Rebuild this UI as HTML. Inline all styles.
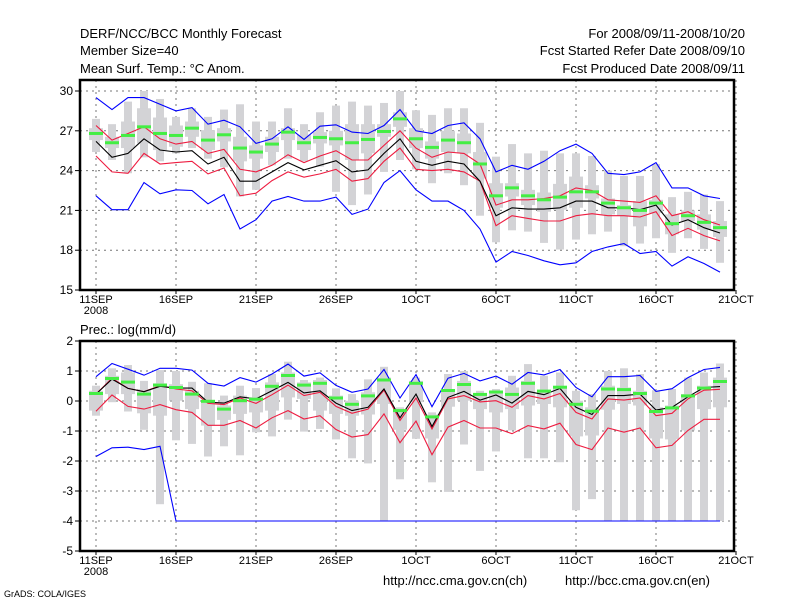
<!DOCTYPE html>
<html><head><meta charset="utf-8">
<style>
html,body{margin:0;padding:0;background:#fff;}
svg{display:block;font-family:"Liberation Sans",sans-serif;}
</style></head>
<body>
<svg id="chart" width="800" height="600" viewBox="0 0 800 600">
<text x="80" y="38" font-size="13">DERF/NCC/BCC Monthly Forecast</text>
<text x="80" y="55" font-size="13">Member Size=40</text>
<text x="80" y="73" font-size="13">Mean Surf. Temp.: °C Anom.</text>
<text x="745" y="38" font-size="13" text-anchor="end">For 2008/09/11-2008/10/20</text>
<text x="745" y="55" font-size="13" text-anchor="end">Fcst Started Refer Date 2008/09/10</text>
<text x="745" y="73" font-size="13" text-anchor="end">Fcst Produced Date 2008/09/11</text>
<text x="80" y="334" font-size="13">Prec.: log(mm/d)</text>
<text x="383" y="585" font-size="13">http://ncc.cma.gov.cn(ch)</text>
<text x="565" y="585" font-size="13">http://bcc.cma.gov.cn(en)</text>
<text x="4" y="597" font-size="9">GrADS: COLA/IGES</text>
<g id="top"></g>
<g id="bot"></g>
</svg>
<script>
const xLabels=["11SEP","16SEP","21SEP","26SEP","1OCT","6OCT","11OCT","16OCT","21OCT"];
const tTicks=[15,18,21,24,27,30];
const pTicks=[-5,-4,-3,-2,-1,0,1,2];
// temperature
const tBlueHi=[29.5,28.6,29.5,29.5,29.0,28.5,28.75,27.5,27.8,27.3,26.05,26.4,27.3,26.35,27.35,27.45,26.9,26.8,27.4,28.6,27.0,26.8,27.4,27.6,26.4,23.9,24.4,24.1,24.7,25.5,26.0,25.3,23.8,23.7,23.9,24.6,22.7,22.7,22.1,21.9];
const tBlueLo=[22.1,21.05,21.05,23.1,22.25,22.55,22.5,21.5,22.2,19.6,20.3,21.7,22.05,21.7,21.7,22.0,20.7,21.1,23.1,24.0,22.55,21.7,21.7,21.0,19.6,17.1,17.9,17.6,17.2,16.9,17.05,17.9,18.25,18.5,17.75,17.9,16.8,17.5,17.0,16.35];
const tRedHi=[27.4,26.3,26.8,27.3,26.4,26.0,26.2,25.3,25.6,24.1,23.9,24.4,25.2,24.6,25.1,25.5,24.8,24.8,25.9,27.0,25.7,25.0,25.4,25.3,24.5,21.4,21.8,21.8,21.9,22.1,22.7,22.5,21.8,21.7,21.6,22.1,20.6,20.9,20.3,19.9];
const tRedLo=[25.1,23.9,23.8,25.3,24.5,24.6,24.7,23.75,24.2,22.1,22.3,23.25,23.9,23.5,23.75,24.1,23.2,23.4,24.7,25.7,24.1,24.0,24.1,23.9,23.2,19.85,20.6,20.4,20.2,20.2,20.6,20.75,20.6,20.6,20.5,20.9,19.1,19.65,19.1,18.7];
const tBlack=[26.2,25.0,25.3,26.4,25.55,25.4,25.5,24.5,25.0,23.2,23.2,23.9,24.6,24.05,24.4,24.75,23.9,24.05,25.3,26.4,24.7,24.4,24.7,24.5,23.2,20.6,21.2,21.1,21.1,21.2,21.7,21.7,21.2,21.2,21.05,21.4,19.9,20.3,19.7,19.3];
const tGreen=[26.8,26.1,26.65,27.3,26.8,26.65,27.2,26.3,26.7,25.7,25.4,26.0,26.9,26.1,26.5,26.4,26.1,26.35,26.95,27.9,26.4,25.75,26.3,26.1,24.5,22.1,22.7,22.1,21.8,22.0,22.4,22.4,21.55,21.2,21.0,21.55,20.0,20.6,20.1,19.7];
const tMax=[27.9,27.5,29.2,30.0,29.4,28.05,28.7,28.05,28.6,29.0,27.7,27.7,28.7,27.5,28.4,28.9,29.2,28.9,29.1,30.0,28.55,28.2,28.7,28.7,27.6,25.05,26.0,25.3,25.5,25.3,25.3,25.1,24.0,23.6,23.6,24.5,22.0,22.4,22.2,21.7];
const tMin=[25.4,24.8,23.8,25.0,24.7,25.3,25.7,24.9,24.25,22.05,22.55,24.4,24.9,24.7,24.3,22.4,21.4,22.2,23.9,24.8,24.1,23.05,23.8,22.9,20.6,18.6,19.5,19.4,18.55,18.05,18.8,19.2,19.4,18.3,18.5,18.9,17.8,18.9,18.1,17.05];
const tQ3=[27.2,26.55,27.7,28.7,28.0,27.4,27.7,27.05,27.2,26.55,25.9,26.55,27.2,26.7,26.9,27.0,27.5,27.5,27.5,28.4,27.2,26.2,27.0,26.8,25.4,23.05,23.05,22.55,22.35,23.0,23.55,22.9,21.9,21.4,21.7,21.8,20.7,21.0,20.7,20.2];
const tQ1=[26.3,25.7,25.7,26.05,25.55,25.8,26.55,25.55,26.2,24.7,24.9,25.4,26.3,25.55,26.05,25.9,24.8,25.3,26.55,27.3,25.7,24.9,25.4,25.3,23.4,21.2,22.05,21.4,20.9,21.05,21.2,21.9,20.7,20.6,19.8,20.8,19.2,20.2,19.55,19.0];
// precipitation
const pBlueHi=[0.81,1.25,1.06,0.86,1.09,1.09,1.03,0.59,0.5,0.78,0.63,0.9,1.23,0.83,0.94,0.52,0.29,0.4,1.05,0.1,0.88,-0.19,0.76,0.92,0.67,0.83,0.56,0.95,0.87,1.05,0.45,0.14,0.81,0.81,0.85,0.32,0.41,0.78,1.05,1.12];
const pBlueLo=[-1.85,-1.56,-1.54,-1.62,-1.51,-4,-4,-4,-4,-4,-4,-4,-4,-4,-4,-4,-4,-4,-4,-4,-4,-4,-4,-4,-4,-4,-4,-4,-4,-4,-4,-4,-4,-4,-4,-4,-4,-4,-4,-4];
const pRedHi=[0.23,0.76,0.42,0.31,0.51,0.4,0.34,-0.08,-0.12,0.1,-0.08,0.21,0.53,0.18,0.29,-0.18,-0.41,-0.27,0.36,-0.65,0.1,-0.93,0.07,0.18,-0.03,0.01,-0.21,0.18,0.07,0.25,-0.38,-0.6,0.07,0.03,0.1,-0.49,-0.41,0.07,0.36,0.39];
const pRedLo=[-0.34,0.2,-0.18,-0.27,-0.12,-0.29,-0.38,-0.81,-0.81,-0.65,-0.9,-0.56,-0.32,-0.6,-0.49,-0.95,-1.2,-1.12,-0.43,-1.39,-0.67,-1.79,-0.87,-0.65,-0.9,-0.9,-1.09,-0.82,-0.93,-0.74,-1.45,-1.62,-0.9,-1.04,-0.9,-1.56,-1.48,-0.98,-0.61,-0.61];
const pBlack=[0.23,0.73,0.42,0.31,0.49,0.43,0.43,-0.04,-0.07,0.14,0.07,0.34,0.62,0.27,0.34,-0.07,-0.32,-0.21,0.4,-0.56,0.23,-0.85,0.12,0.32,0.03,0.2,-0.07,0.32,0.21,0.42,-0.21,-0.45,0.18,0.18,0.23,-0.3,-0.21,0.14,0.45,0.48];
const pGreen=[0.25,0.75,0.63,0.23,0.53,0.45,0.23,-0.01,-0.27,0.01,0.06,0.49,0.85,0.53,0.59,0.1,-0.11,0.17,0.7,-0.32,0.59,-0.53,0.35,0.55,0.22,0.3,0.22,0.59,0.33,0.46,-0.11,-0.34,0.4,0.38,0.25,-0.35,-0.23,0.17,0.43,0.65];
const pMax=[0.51,1.09,1.2,0.67,1.03,1.0,0.64,0.59,0.18,0.51,0.43,0.9,1.31,0.7,0.78,0.42,0.23,0.72,1.14,-0.21,0.78,-0.38,0.9,1.0,0.34,0.4,0.84,1.23,0.84,0.95,0.34,0.23,1.0,1.09,0.9,0.36,0.4,0.78,0.95,1.25];
const pMin=[-0.49,-0.04,-0.35,-0.96,-3.44,-1.31,-1.43,-1.85,-1.51,-1.81,-1.04,-1.18,-0.62,-1.02,-0.93,-1.28,-1.91,-2.08,-4,-2.61,-1.26,-2.71,-3.03,-1.45,-2.33,-1.68,-0.98,-1.91,-1.91,-2.04,-3.64,-3.27,-4,-4,-4,-4,-4,-4,-4,-4];
const pQ3=[0.34,0.84,0.95,0.4,0.59,0.56,0.34,0.01,-0.15,0.18,0.12,0.62,0.95,0.62,0.7,0.18,0.01,0.29,0.78,-0.27,0.67,-0.45,0.4,0.67,0.23,0.34,0.45,0.67,0.36,0.48,0.01,-0.21,0.51,0.45,0.34,-0.21,-0.15,0.23,0.51,0.78];
const pQ1=[-0.32,0.23,0.23,-0.41,-0.49,0.01,-0.27,-0.82,-0.63,-0.43,-0.38,-0.32,0.12,0.07,-0.32,-0.43,-0.49,-0.45,-0.1,-0.96,-0.04,-1.25,-0.19,0.01,-0.27,-0.38,-0.27,-0.15,-0.1,-0.21,-1.18,-1.15,-0.29,-0.1,-0.15,-1.25,-1.28,-0.98,-0.27,-0.21];

const NS='http://www.w3.org/2000/svg';
function mk(tag,attrs,parent){const e=document.createElementNS(NS,tag);for(const k in attrs)e.setAttribute(k,attrs[k]);parent.appendChild(e);return e;}
const X0=80,X1=734;
function xScale(d){return 96+16*d;}

function panel(g,yTop,yBot,vMin,vMax,ticks,series,prefix){
  const y=v=>yBot-(v-vMin)/(vMax-vMin)*(yBot-yTop);
  // grid
  for(let i=0;i<ticks.length;i++){const t=ticks[i];if(t===vMin)continue;
    const l=mk('line',{x1:X0,x2:X1,y1:y(t),y2:y(t),stroke:'#777','stroke-dasharray':'2,4','stroke-width':1},g);
    
    }
  for(let i=0;i<9;i++){const x=xScale(i*5);
    const l=mk('line',{x1:x,x2:x,y1:yTop,y2:yBot,stroke:'#777','stroke-dasharray':'2,4','stroke-width':1},g);
    
    }
  const [mx,mn,q3,q1,green,bhi,blo,rhi,rlo,blk]=series;
  for(let d=0;d<mx.length;d++){
    const cx=xScale(d);
    const r1=mk('rect',{x:cx-4,y:y(mx[d]),width:8,height:Math.max(1,y(mn[d])-y(mx[d])),fill:'#d3d3d6'},g);
    
    
    const r2=mk('rect',{x:cx-7,y:y(q3[d]),width:14,height:Math.max(1,y(q1[d])-y(q3[d])),fill:'#d3d3d6'},g);
    
    
  }
  const lines=[[bhi,'#0000ff','blue-upper'],[blo,'#0000ff','blue-lower'],[rhi,'#ee1c40','red-upper'],[rlo,'#ee1c40','red-lower'],[blk,'#000','ensemble-line']];
  for(const [arr,col,nm] of lines){
    const p=mk('polyline',{points:arr.map((v,d)=>xScale(d)+','+y(v).toFixed(1)).join(' '),fill:'none',stroke:col,'stroke-width':1.1},g);
    
    
  }
  for(let d=0;d<green.length;d++){
    const r=mk('rect',{x:xScale(d)-7,y:y(green[d])-1.5,width:14,height:3,fill:'#44ee44'},g);
    
    
  }
  // frame
  const f=mk('rect',{x:X0,y:yTop,width:X1-X0,height:yBot-yTop,fill:'none',stroke:'#000','stroke-width':2.5},g);
  
  
  for(const t of ticks){
    const tk=mk('line',{x1:X0-5,x2:X0,y1:y(t),y2:y(t),stroke:'#000'},g);
    
    
    const tx=mk('text',{x:X0-7,y:y(t)+4,'font-size':12,'text-anchor':'end'},g);
    tx.textContent=t;
    
    
  }
  for(let i=0;i<xLabels.length;i++){
    const x=xScale(i*5);
    const tk=mk('line',{x1:x,x2:x,y1:yBot,y2:yBot+4,stroke:'#000'},g);
    
    
    const tx=mk('text',{x:x,y:yBot+13,'font-size':11,'text-anchor':'middle'},g);
    tx.textContent=xLabels[i];
    
    
  }
  const yr=mk('text',{x:96,y:yBot+24,'font-size':11,'text-anchor':'middle'},g);
  yr.textContent='2008';
  
  
}
panel(document.getElementById('top'),80,290,15,30.83,tTicks,[tMax,tMin,tQ3,tQ1,tGreen,tBlueHi,tBlueLo,tRedHi,tRedLo,tBlack],'temp');
panel(document.getElementById('bot'),341,551,-5,2,pTicks,[pMax,pMin,pQ3,pQ1,pGreen,pBlueHi,pBlueLo,pRedHi,pRedLo,pBlack],'prec');
</script>
</body></html>
